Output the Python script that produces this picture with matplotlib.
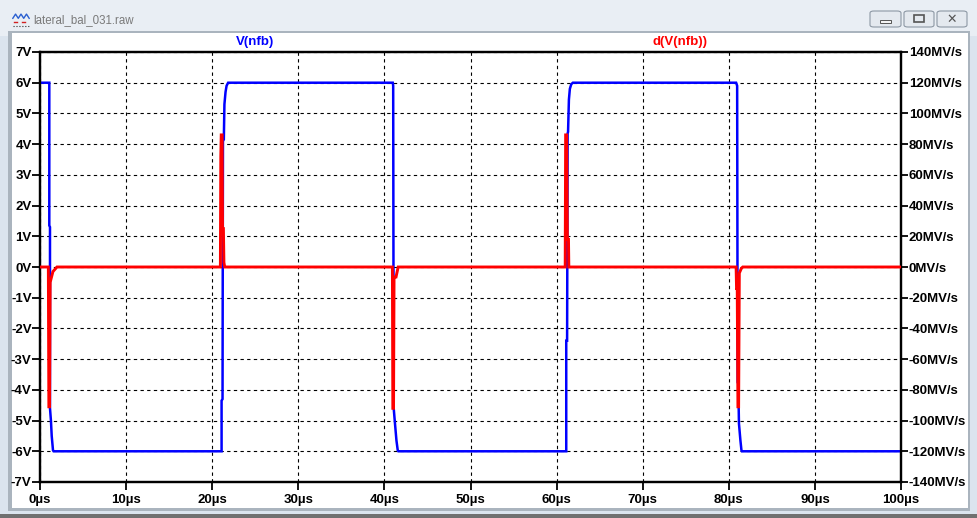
import matplotlib
matplotlib.use("Agg")
import matplotlib.pyplot as plt
from matplotlib.patches import Rectangle, FancyBboxPatch

W, H = 977, 518

# -------- data (time in µs) --------
blue_t = [0, 1.08, 1.08, 1.16, 1.16, 1.27, 1.36, 1.51, 1.58,
          21.09, 21.09, 21.2, 21.25, 21.35, 21.42, 21.55, 21.67, 21.85,
          40.97, 41.02, 41.08, 41.23, 41.4, 41.55, 41.62,
          61.12, 61.12, 61.22, 61.28, 61.33, 61.43, 61.54, 61.7, 61.89,
          80.85, 80.97, 81.03, 81.1, 81.18, 81.35, 81.47, 81.52, 100]
blue_v = [6, 6, 1.35, 1.3, -4.6, -5.0, -5.5, -5.97, -6,
          -6, -4.35, -4.3, 4.1, 4.15, 5.3, 5.7, 5.9, 6,
          6, 5.9, -4.6, -5.1, -5.65, -5.97, -6,
          -6, -2.4, -2.4, 4.35, 4.4, 5.45, 5.8, 5.95, 6,
          6, 5.9, -3.75, -3.8, -5.1, -5.65, -5.97, -6, -6]

red_t = [0, 0.97, 1.03, 1.11, 1.18, 1.5, 1.97,
         20.95, 21.0, 21.05, 21.15, 21.2, 21.3, 21.36, 21.45,
         40.93, 40.98, 41.06, 41.12, 41.35, 41.6,
         61.0, 61.05, 61.17, 61.25, 61.38, 61.42,
         80.85, 80.9, 80.98, 81.06, 81.14, 81.22, 81.45, 81.62, 100]
red_d = [0, 0, -91, -91, -10, -3, 0,
         0, 72, 86, 86, 25, 25, 3, 0,
         0, -92, -92, -6.5, -6.5, 0,
         0, 86, 86, 18, 18, 0,
         0, -14, -14, -91, -91, -4, -1, 0, 0]

x_ticks = list(range(0, 101, 10))
x_labels = [f"{v}µs" for v in x_ticks]
v_ticks = list(range(-7, 8))
v_labels = [f"{v}V" for v in v_ticks]
d_ticks = list(range(-140, 141, 20))
d_labels = [f"{v}MV/s" for v in d_ticks]

FONT = "Liberation Sans"


def box(x, y, w, h):
    # pixel box (top-left origin) -> figure fraction
    return (x / W, 1 - (y + h) / H, w / W, h / H)


def rect(x, y, w, h, **kw):
    b = box(x, y, w, h)
    kw.setdefault("zorder", -10)
    fig.patches.append(Rectangle(b[:2], b[2], b[3], transform=fig.transFigure, **kw))


fig = plt.figure(figsize=(W / 100, H / 100), dpi=100)
fig.patch.set_facecolor("#dbe4ee")

# window frame
rect(0, 0, W, 36, facecolor="#e9eef4", edgecolor="none")
rect(8, 31, 962, 480, facecolor="#aab4be", edgecolor="none")
rect(12, 33, 956, 475, facecolor="white", edgecolor="none")
rect(0, 514, W, 4, facecolor="#707070", edgecolor="none")

# title bar text + icon
fig.text(33 / W, 1 - 20 / H, "lateral_bal_031.raw", fontsize=8.3,
         color="#7a7a7a", va="center", ha="left", family=FONT)
icon = fig.add_axes(box(12, 12, 18, 16))
icon.set_axis_off()
icon.plot([0, 1, 2, 3, 4, 5, 6], [2, 3, 2, 3, 2, 3, 2], color="#2a5fd0", lw=1)
icon.plot([0.5, 1.5], [1.2, 1.2], color="#d02020", lw=1)
icon.plot([3.5, 4.5], [1.2, 1.2], color="#d02020", lw=1)
icon.plot([0, 6], [0.2, 0.2], color="#303030", lw=0.8, ls=":")
icon.set_xlim(-0.3, 6.3)
icon.set_ylim(-0.3, 3.5)

# window buttons
for x0, x1 in [(870, 901), (904, 934), (937, 967)]:
    bx = box(x0, 11, x1 - x0, 16)
    fig.patches.append(FancyBboxPatch(bx[:2], bx[2], bx[3], transform=fig.transFigure,
                                      boxstyle="round,pad=0,rounding_size=0.004",
                                      facecolor="#e4e9ef", edgecolor="#8d98a4",
                                      lw=0.8, zorder=1))
rect(880, 20, 11, 3, facecolor="#f4f4f4", edgecolor="#555555", lw=0.7, zorder=2)
rect(914, 15, 10, 7, facecolor="none", edgecolor="#555555", lw=1.2, zorder=2)
fig.text(952 / W, 1 - 19 / H, "✕", fontsize=9, color="#555555", ha="center",
         va="center", family="DejaVu Sans", fontweight="bold")

# -------- plot --------
ax = fig.add_axes(box(40, 52, 861, 430))
ax.set_xlim(0, 100)
ax.set_ylim(-7, 7)
ax.set_facecolor("white")

ax.set_xticks(x_ticks)
ax.set_xticklabels(x_labels)
ax.set_yticks(v_ticks)
ax.set_yticklabels(v_labels)
ax.grid(True, color="black", ls=(0, (3, 3)), lw=0.8)
ax.set_axisbelow(True)

for s in ax.spines.values():
    s.set_linewidth(1.6)
    s.set_color("black")

ax.tick_params(axis="both", direction="out", length=5.5, width=1.3, colors="black",
               labelsize=9.5, pad=0.5)
ax.tick_params(axis="x", pad=3)
for lab in ax.get_xticklabels() + ax.get_yticklabels():
    lab.set_fontweight("bold")
    lab.set_family(FONT)

ax.plot(blue_t, blue_v, color="#0000ff", lw=1.8, solid_joinstyle="miter", zorder=3)

ax2 = ax.twinx()
ax2.set_ylim(-140, 140)
ax2.set_yticks(d_ticks)
ax2.set_yticklabels(d_labels)
ax2.tick_params(axis="y", direction="out", length=5, width=1.3, colors="black",
                labelsize=9.5, pad=0.5)
for lab in ax2.get_yticklabels():
    lab.set_fontweight("bold")
    lab.set_family(FONT)
for s in ax2.spines.values():
    s.set_linewidth(1.6)
ax2.plot(red_t, red_d, color="#ff0000", lw=2.1, solid_joinstyle="miter", zorder=4)

# trace names
fig.text(255 / W, 1 - 42 / H, "V(nfb)", color="#0000ff", fontsize=9.5,
         fontweight="bold", family=FONT, ha="center", va="center")
fig.text(680 / W, 1 - 42 / H, "d(V(nfb))", color="#ff0000", fontsize=9.5,
         fontweight="bold", family=FONT, ha="center", va="center")

fig.savefig("out.png", dpi=100)
